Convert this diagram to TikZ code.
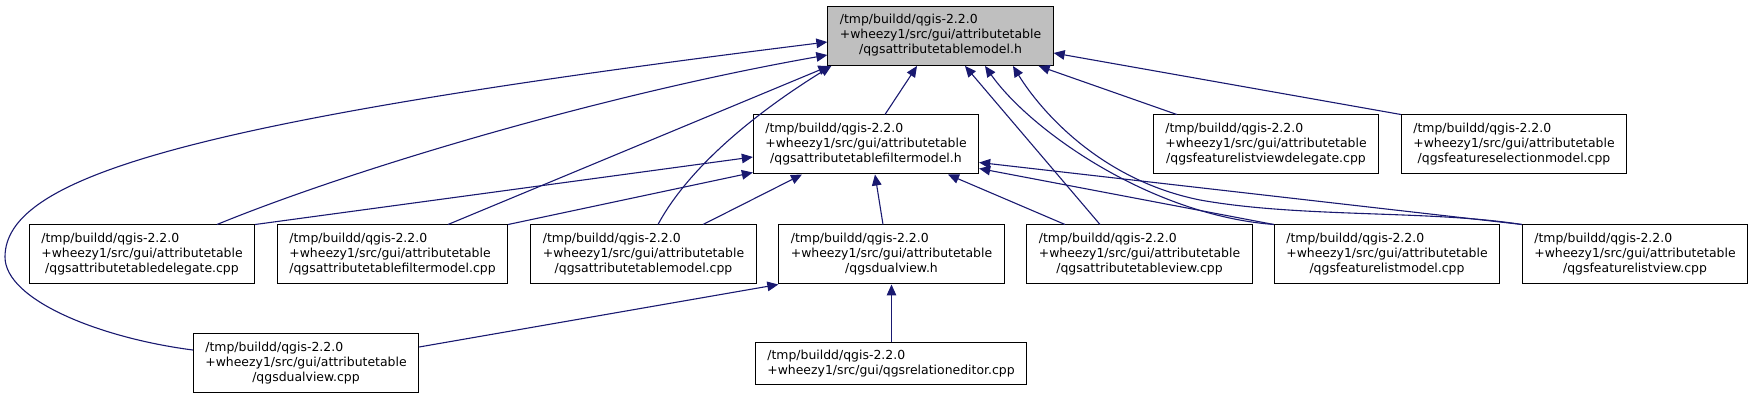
\documentclass[tikz,border=0pt]{standalone}
\usepackage{fontspec}
\setmainfont{DejaVu Sans}
\usepackage{xcolor}
\usetikzlibrary{arrows.meta,calc}
\definecolor{edgeblue}{HTML}{191970}
\definecolor{rootgray}{HTML}{BFBFBF}
\newcommand{\attrfile}[1]{\begin{tabular}{@{}l@{}}/tmp/buildd/qgis-2.2.0\\+wheezy1/src/gui/attributetable\\\multicolumn{1}{@{}c@{}}{/#1}\end{tabular}}
\begin{document}
\begin{tikzpicture}[x=0.5pt,y=-0.5pt,
  file/.style={draw=black,fill=white,line width=0.5pt,inner xsep=6pt,inner ysep=0pt,minimum height=29.5pt,font=\fontsize{6.22pt}{7.5pt}\selectfont},
  inc/.style={draw=edgeblue,line width=0.55pt,-{Triangle[length=5.5pt,width=4.8pt]}}]
\useasboundingbox (0,0) rectangle (1753,400);
\node[file,fill=rootgray] (root) at (940.5,36) {\attrfile{qgsattributetablemodel.h}};
\node[file] (filth) at (866,144.5) {\attrfile{qgsattributetablefiltermodel.h}};
\node[file] (fldel) at (1266,144.5) {\attrfile{qgsfeaturelistviewdelegate.cpp}};
\node[file] (fsel) at (1514,144.5) {\attrfile{qgsfeatureselectionmodel.cpp}};
\node[file] (del) at (142,254.5) {\attrfile{qgsattributetabledelegate.cpp}};
\node[file] (filcpp) at (392.5,254.5) {\attrfile{qgsattributetablefiltermodel.cpp}};
\node[file] (modcpp) at (643.5,254.5) {\attrfile{qgsattributetablemodel.cpp}};
\node[file] (dvh) at (891.5,254.5) {\attrfile{qgsdualview.h}};
\node[file] (view) at (1139.5,254.5) {\attrfile{qgsattributetableview.cpp}};
\node[file] (flmodel) at (1387,254.5) {\attrfile{qgsfeaturelistmodel.cpp}};
\node[file] (flview) at (1635,254.5) {\attrfile{qgsfeaturelistview.cpp}};
\node[file] (dvcpp) at (306,363.5) {\attrfile{qgsdualview.cpp}};
\node[file,minimum height=21pt] (rel) at (891,364) {\begin{tabular}{@{}l@{}}/tmp/buildd/qgis-2.2.0\\+wheezy1/src/gui/qgsrelationeditor.cpp\end{tabular}};
\draw[inc] ($(filth.north)+(19,0)$) -- ($(root.south)+(-23.5,0)$);
\draw[inc] ($(del.north)+(75,0)$) .. controls (350,170) and (600,95) .. ($(root.west)+(0,19)$);
\draw[inc] ($(filcpp.north)+(55.5,0)$) -- ($(root.south west)+(2,0)$);
\draw[inc] ($(modcpp.north)+(14.5,0)$) .. controls (690,165) and (760,110) .. ($(root.south west)+(4,0)$);
\draw[inc] ($(dvcpp.west)+(0,-13.5)$) .. controls (100,338) and (5,300) .. (5,257) .. controls (5,175) and (200,120) .. ($(root.west)+(0,6)$);
\draw[inc] ($(view.north)+(-39.5,0)$) -- ($(root.south)+(24.5,0)$);
\draw[inc] (flmodel.north west) .. controls (1150,215) and (1030,130) .. ($(root.south)+(44.5,0)$);
\draw[inc] (flview.north west) .. controls (1430,210) and (1300,218) .. (1200,200) .. controls (1100,180) and (1040,110) .. ($(root.south)+(72.5,0)$);
\draw[inc] ($(fldel.north west)+(24,0)$) -- ($(root.south east)+(-15,0)$);
\draw[inc] (fsel.north west) -- ($(root.east)+(0,17)$);
\draw[inc] (del.north east) -- ($(filth.west)+(0,12.5)$);
\draw[inc] (filcpp.north east) -- ($(filth.south west)+(0,-2)$);
\draw[inc] ($(modcpp.north)+(59.5,0)$) -- ($(filth.south)+(-64,0)$);
\draw[inc] ($(dvh.north)+(-8.5,0)$) -- ($(filth.south)+(9,0)$);
\draw[inc] ($(view.north)+(-74.5,0)$) -- ($(filth.south)+(82,0)$);
\draw[inc] (flmodel.north west) -- ($(filth.south east)+(0,-6)$);
\draw[inc] (flview.north west) -- ($(filth.south east)+(0,-12)$);
\draw[inc] ($(dvcpp.east)+(0,-16.5)$) -- (dvh.south west);
\draw[inc] ($(rel.north)+(0.5,0)$) -- ($(rel.north |- dvh.south)+(0.5,0)$);
\end{tikzpicture}
\end{document}
